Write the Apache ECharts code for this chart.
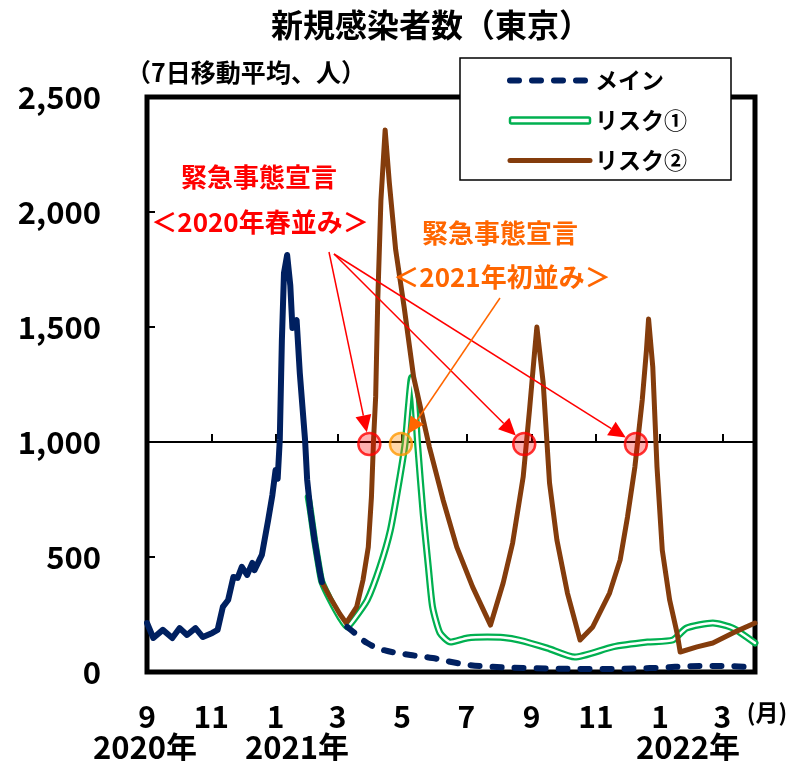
<!DOCTYPE html>
<html>
<head>
<meta charset="utf-8">
<script src="https://cdn.jsdelivr.net/npm/echarts@6/dist/echarts.min.js"></script>
<style>
  html, body { margin: 0; padding: 0; background: #fff; }
  #chart { width: 795px; height: 761px; }
</style>
</head>
<body>
<div id="chart"></div>
<script>
const FONT = '"Noto Sans CJK JP", "Noto Sans", sans-serif';

// 東京都 新規感染者数（7日移動平均、人）— 実績
const actualDates = [
  '2020-09-01','2020-09-07','2020-09-16','2020-09-25','2020-10-02','2020-10-09','2020-10-17','2020-10-24',
  '2020-11-02','2020-11-07','2020-11-12','2020-11-17','2020-11-22','2020-11-26','2020-11-30','2020-12-05',
  '2020-12-10','2020-12-12','2020-12-19','2020-12-25','2020-12-29','2021-01-01','2021-01-03','2021-01-05',
  '2021-01-07','2021-01-09','2021-01-12','2021-01-15','2021-01-17','2021-01-19','2021-01-21','2021-01-24',
  '2021-01-29','2021-01-31','2021-02-03','2021-02-07','2021-02-12','2021-02-14'
];
const actualValues = [
  213, 148, 183, 148, 191, 161, 191, 152,
  170, 183, 283, 313, 413, 409, 457, 422,
  474, 443, 509, 661, 770, 878, 840, 1009,
  1443, 1735, 1813, 1680, 1496, 1520, 1530, 1300,
  1009, 835, 704, 574, 435, 391
];

// メインシナリオ
const mainDates = [
  '2021-03-10','2021-03-17','2021-03-29','2021-04-13','2021-05-09','2021-05-30','2021-06-22',
  '2021-07-14','2021-08-30','2021-11-05','2021-12-22','2022-02-08','2022-03-08','2022-04-01'
];
const mainValues = [196, 170, 126, 96, 74, 61, 39, 26, 17, 13, 17, 26, 26, 17];

// リスクシナリオ①
const risk1Dates = [
  '2021-02-01','2021-02-03','2021-02-07','2021-02-12','2021-02-14','2021-02-22','2021-03-03','2021-03-10',
  '2021-03-16','2021-03-29','2021-04-10','2021-04-20','2021-04-29','2021-05-04','2021-05-07','2021-05-10',
  '2021-05-13','2021-05-16','2021-05-21','2021-05-26','2021-05-30','2021-06-06','2021-06-16','2021-07-02',
  '2021-07-21','2021-08-05','2021-08-20','2021-09-16','2021-10-12','2021-11-17','2021-12-20','2022-01-13',
  '2022-01-26','2022-02-20','2022-03-11','2022-04-01'
];
const risk1Values = [
  760, 704, 574, 435, 391, 313, 239, 196,
  226, 313, 457, 617, 848, 996, 1152, 1280,
  1183, 978, 691, 457, 283, 170, 130, 148,
  152, 150, 139, 104, 65, 109, 130, 139,
  191, 213, 191, 126
];

// リスクシナリオ②
const risk2Dates = [
  '2021-02-14','2021-02-22','2021-03-03','2021-03-09','2021-03-19','2021-03-25','2021-03-30','2021-04-02',
  '2021-04-04','2021-04-06','2021-04-08','2021-04-11','2021-04-15','2021-04-19','2021-04-25','2021-05-03',
  '2021-05-12','2021-05-27','2021-06-09','2021-06-22','2021-07-07','2021-07-24','2021-08-05','2021-08-14',
  '2021-08-24','2021-08-30','2021-09-04','2021-09-06','2021-09-12','2021-09-18','2021-09-25','2021-10-05',
  '2021-10-17','2021-10-29','2021-11-14','2021-11-24','2021-12-01','2021-12-08','2021-12-15','2021-12-19',
  '2021-12-21','2021-12-25','2021-12-29','2022-01-03','2022-01-10','2022-01-17','2022-01-20','2022-02-05',
  '2022-02-20','2022-03-11','2022-04-01'
];
const risk2Values = [
  391, 322, 252, 213, 283, 400, 543, 761,
  1009, 1196, 1617, 2052, 2357, 2126, 1835, 1587,
  1283, 978, 748, 543, 370, 204, 387, 561,
  848, 1139, 1400, 1500, 1257, 822, 574, 343,
  139, 196, 343, 487, 674, 891, 1183, 1400,
  1535, 1326, 891, 530, 313, 170, 87, 109,
  126, 170, 213
];

// 緊急事態宣言の発出目安（1,000人）に達する時点
const declarationLevel = 1000;
const springLevelDates = ['2021-03-31', '2021-08-25', '2021-12-09']; // 2020年春並み
const earlyLevelDates = ['2021-04-30'];                              // 2021年初並み

// 軸
const axisStart = '2020-09-01';
const axisEnd = '2022-04-01';
const monthTickDates = [
  '2020-09-01','2020-11-01','2021-01-01','2021-03-01','2021-05-01',
  '2021-07-01','2021-09-01','2021-11-01','2022-01-01','2022-03-01'
];
const yearLabels = ['2020年', '2021年', '2022年'];
const yMin = 0, yMax = 2500, yStep = 500;

// 'YYYY-MM-DD' -> timestamp (local time, same as ECharts date parsing)
function ts(s) {
  const p = s.split('-').map(Number);
  return new Date(p[0], p[1] - 1, p[2]).getTime();
}
function pairs(dates, values) {
  return dates.map((d, i) => [ts(d), values[i]]);
}

const chart = echarts.init(document.getElementById('chart'), null, { renderer: 'canvas' });

const NAVY = '#002060';
const GREEN = '#00B050';
const BROWN = '#843C0C';
const RED = '#FF0000';
const ORANGE = '#FF6600';

const option = {
  animation: false,
  backgroundColor: '#fff',
  textStyle: { fontFamily: FONT },
  title: {
    text: '新規感染者数（東京）',
    left: 426,
    top: 4,
    textAlign: 'center',
    textStyle: { fontFamily: FONT, fontSize: 32, fontWeight: 'bold', color: '#000' }
  },
  legend: {
    orient: 'vertical',
    left: 460,
    top: 58,
    padding: [11, 44, 8, 47],
    itemGap: 17,
    itemWidth: 80,
    itemHeight: 6,
    backgroundColor: '#fff',
    borderColor: '#000',
    borderWidth: 1.5,
    borderRadius: 0,
    selectedMode: false,
    textStyle: { fontFamily: FONT, fontSize: 23, fontWeight: 'bold', color: '#000' },
    data: [
      { name: 'メイン', itemStyle: { opacity: 0 }, lineStyle: { width: 6 } },
      { name: 'リスク①', icon: 'roundRect', itemStyle: { color: '#fff', borderColor: GREEN, borderWidth: 2.5 } },
      { name: 'リスク②', itemStyle: { opacity: 0 }, lineStyle: { width: 5 } }
    ]
  },
  grid: {
    left: 147, top: 97, width: 608, height: 575,
    show: true, borderColor: '#000', borderWidth: 5, backgroundColor: '#fff'
  },
  xAxis: [
    {
      type: 'value',
      min: ts(axisStart), max: ts(axisEnd),
      position: 'bottom',
      axisLine: { show: false, onZero: false },
      axisTick: { show: false },
      splitLine: { show: false },
      axisLabel: {
        customValues: monthTickDates.map(ts),
        formatter: v => String(new Date(v).getMonth() + 1),
        fontFamily: FONT, fontSize: 30, fontWeight: 'bold', color: '#000',
        margin: 30
      }
    },
    {
      // 1,000人の基準線（目盛り付き）
      type: 'value',
      min: ts(axisStart), max: ts(axisEnd),
      position: 'top',
      axisLine: { show: true, onZero: true, onZeroAxisIndex: 1, lineStyle: { color: '#000', width: 2 } },
      axisTick: { show: true, inside: false, length: 8, customValues: monthTickDates.map(ts), lineStyle: { color: '#000', width: 2 } },
      axisLabel: { show: false },
      splitLine: { show: false }
    }
  ],
  yAxis: [
    {
      type: 'value',
      min: yMin, max: yMax, interval: yStep,
      axisLine: { show: false },
      axisTick: { show: true, inside: true, length: 8, lineStyle: { color: '#000', width: 2 } },
      splitLine: { show: false },
      axisLabel: {
        formatter: v => v.toLocaleString('en-US'),
        fontFamily: FONT, fontSize: 31, fontWeight: 'bold', color: '#000',
        margin: 46
      }
    },
    {
      type: 'value',
      min: yMin - declarationLevel, max: yMax - declarationLevel,
      show: false
    }
  ],
  series: [
    {
      name: 'リスク①', type: 'line', data: pairs(risk1Dates, risk1Values),
      symbol: 'none', smooth: 0.2, z: 2,
      lineStyle: { color: GREEN, width: 7, cap: 'round', join: 'round' },
      itemStyle: { color: GREEN }
    },
    {
      name: 'リスク①（内側）', type: 'line', data: pairs(risk1Dates, risk1Values),
      symbol: 'none', smooth: 0.2, z: 3, silent: true,
      lineStyle: { color: '#fff', width: 2.5, cap: 'round', join: 'round' },
      itemStyle: { color: '#fff' }
    },
    {
      name: 'リスク②', type: 'line', data: pairs(risk2Dates, risk2Values),
      symbol: 'none', z: 4,
      lineStyle: { color: BROWN, width: 5, cap: 'round', join: 'round' },
      itemStyle: { color: BROWN }
    },
    {
      name: '実績', type: 'line', data: pairs(actualDates, actualValues),
      symbol: 'none', z: 5,
      lineStyle: { color: NAVY, width: 6, cap: 'round', join: 'round' },
      itemStyle: { color: NAVY }
    },
    {
      name: 'メイン', type: 'line', data: pairs(mainDates, mainValues),
      symbol: 'none', smooth: 0.4, z: 5,
      lineStyle: { color: NAVY, width: 6, type: [9, 13], cap: 'round', join: 'round' },
      itemStyle: { color: NAVY }
    },
    {
      name: '2020年春並み', type: 'scatter',
      data: springLevelDates.map(d => [ts(d), declarationLevel]),
      symbol: 'circle', symbolSize: 22, symbolOffset: [0, 2], z: 6, silent: true,
      itemStyle: { color: 'rgba(255,0,0,0.38)', borderColor: RED, borderWidth: 2.5 }
    },
    {
      name: '2021年初並み', type: 'scatter',
      data: earlyLevelDates.map(d => [ts(d), declarationLevel]),
      symbol: 'circle', symbolSize: 22, symbolOffset: [0, 2], z: 6, silent: true,
      itemStyle: { color: 'rgba(255,140,0,0.42)', borderColor: '#FF9900', borderWidth: 2.5 }
    }
  ]
};

chart.setOption(option);

// 注記テキストと矢印
function centerOf(date) {
  const p = chart.convertToPixel({ xAxisIndex: 0, yAxisIndex: 0 }, [ts(date), declarationLevel]);
  return [p[0], p[1] + 2];
}
function arrow(from, toCenter, color) {
  const r = 12;
  const dx = toCenter[0] - from[0], dy = toCenter[1] - from[1];
  const len = Math.hypot(dx, dy);
  const ux = dx / len, uy = dy / len;
  const tip = [toCenter[0] - ux * r, toCenter[1] - uy * r];
  const headLen = 17, headHalf = 8;
  const base = [tip[0] - ux * headLen, tip[1] - uy * headLen];
  const nx = -uy, ny = ux;
  return [
    { type: 'line', z: 10, silent: true,
      shape: { x1: from[0], y1: from[1], x2: base[0], y2: base[1] },
      style: { stroke: color, lineWidth: 1.5 } },
    { type: 'polygon', z: 10, silent: true,
      shape: { points: [tip, [base[0] + nx * headHalf, base[1] + ny * headHalf], [base[0] - nx * headHalf, base[1] - ny * headHalf]] },
      style: { fill: color } }
  ];
}
function label(text, x, y, size, color) {
  return {
    type: 'text', z: 10, silent: true, x: x, y: y,
    style: { text: text, fill: color, font: 'bold ' + size + 'px ' + FONT, align: 'center', verticalAlign: 'middle' }
  };
}

const redFrom = [[329, 252], [334, 254], [334, 254]];
const graphics = [
  label('（7日移動平均、人）', 246, 72, 25, '#000'),
  label('緊急事態宣言', 259, 177, 26, RED),
  label('＜2020年春並み＞', 260, 222, 26, RED),
  label('緊急事態宣言', 500, 233, 26, ORANGE),
  label('＜2021年初並み＞', 502, 277, 26, ORANGE),
  label(yearLabels[0], 145, 747, 31, '#000'),
  label(yearLabels[1], 297, 747, 31, '#000'),
  label(yearLabels[2], 688, 747, 31, '#000'),
  label('(月)', 767, 712, 23, '#000')
];
springLevelDates.forEach((d, i) => {
  arrow(redFrom[i], centerOf(d), RED).forEach(g => graphics.push(g));
});
arrow([500, 298], centerOf(earlyLevelDates[0]), ORANGE).forEach(g => graphics.push(g));

chart.setOption({ graphic: graphics });
</script>
</body>
</html>
